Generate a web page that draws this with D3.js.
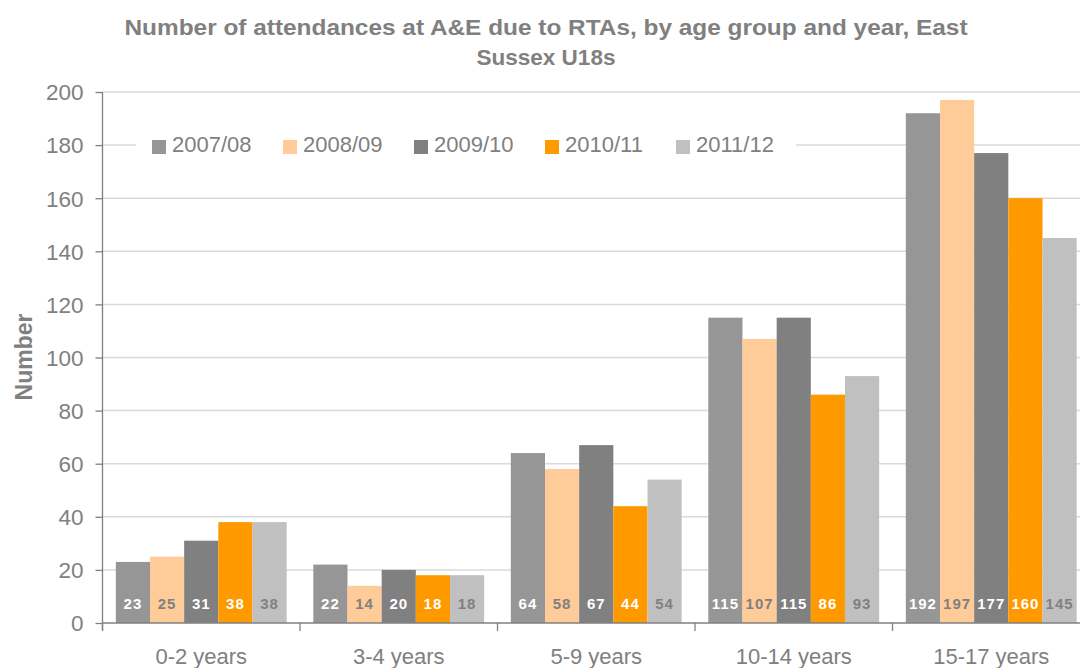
<!DOCTYPE html>
<html>
<head>
<meta charset="utf-8">
<script src="https://cdn.jsdelivr.net/npm/d3@7"></script>
<style>
  html, body { margin: 0; padding: 0; background: #fff; }
  svg { display: block; font-family: "Liberation Sans", Arial, sans-serif; }
</style>
</head>
<body>
<svg id="chart" width="1080" height="668"></svg>
<script>
// Age groups and financial years
const ageGroups = ["0-2 years", "3-4 years", "5-9 years", "10-14 years", "15-17 years"];
const years = ["2007/08", "2008/09", "2009/10", "2010/11", "2011/12"];

// Attendances per year, one value per age group
const y2007 = [23, 22, 64, 115, 192];
const y2008 = [25, 14, 58, 107, 197];
const y2009 = [31, 20, 67, 115, 177];
const y2010 = [38, 18, 44, 86, 160];
const y2011 = [38, 18, 54, 93, 145];

const yTicks = [0, 20, 40, 60, 80, 100, 120, 140, 160, 180, 200];

const seriesColors = ["#969696", "#FFCC99", "#808080", "#FF9900", "#C0C0C0"];
const labelColors = ["#ffffff", "#808080", "#ffffff", "#ffffff", "#808080"];

const series = [y2007, y2008, y2009, y2010, y2011].map((vals, i) => ({
  year: years[i], color: seriesColors[i], labelColor: labelColors[i], values: vals
}));

const svg = d3.select("#chart");
const plot = { left: 102.5, right: 1090, top: 92, bottom: 623 };

const x0 = d3.scaleBand().domain(ageGroups).range([plot.left, plot.right]).paddingInner(0).paddingOuter(0);
const x1 = d3.scaleBand().domain(years).range([0, x0.bandwidth()]).paddingOuter(0.39).paddingInner(0);
const y = d3.scaleLinear().domain([0, 200]).range([plot.bottom, plot.top]);

const grey = "#808080";

// Gridlines
svg.append("g")
  .selectAll("line")
  .data(yTicks.filter(d => d > 0))
  .join("line")
  .attr("x1", plot.left).attr("x2", 1080)
  .attr("y1", d => y(d)).attr("y2", d => y(d))
  .attr("stroke", "#dadada").attr("stroke-width", 1.5);

// Bars
const groups = svg.append("g")
  .selectAll("g")
  .data(series)
  .join("g");

groups.selectAll("rect")
  .data(s => s.values.map((v, i) => ({ v, cat: ageGroups[i], s })))
  .join("rect")
  .attr("x", d => x0(d.cat) + x1(d.s.year))
  .attr("width", x1.bandwidth())
  .attr("y", d => y(d.v))
  .attr("height", d => y(0) - y(d.v))
  .attr("fill", d => d.s.color);

// Value labels near the base of each bar
groups.selectAll("text")
  .data(s => s.values.map((v, i) => ({ v, cat: ageGroups[i], s })))
  .join("text")
  .attr("x", d => x0(d.cat) + x1(d.s.year) + x1.bandwidth() / 2)
  .attr("y", 609)
  .attr("text-anchor", "middle")
  .attr("font-size", 15)
  .attr("font-weight", "bold")
  .attr("letter-spacing", 1)
  .attr("fill", d => d.s.labelColor)
  .text(d => d.v);

// Y axis
const yAxis = svg.append("g")
  .attr("transform", `translate(${plot.left},0)`)
  .call(d3.axisLeft(y).tickValues(yTicks).tickSize(7).tickPadding(12));
yAxis.select(".domain").attr("stroke", grey).attr("stroke-width", 1.3).attr("d", `M0,${plot.top}V${plot.bottom + 7}`);
yAxis.selectAll(".tick line").attr("stroke", grey).attr("stroke-width", 1.3);
yAxis.selectAll(".tick text").attr("fill", grey).attr("font-size", 22.5)
  .attr("dy", "0.35em")
  .attr("font-family", "Liberation Sans, Arial, sans-serif");

// X axis with ticks at category boundaries
const xAxis = svg.append("g").attr("transform", `translate(0,${plot.bottom})`);
xAxis.append("line")
  .attr("x1", plot.left).attr("x2", 1080)
  .attr("stroke", grey).attr("stroke-width", 1.3);
xAxis.selectAll("line.bound")
  .data(ageGroups.map(g => x0(g)).concat([plot.right]))
  .join("line")
  .attr("class", "bound")
  .attr("x1", d => d).attr("x2", d => d)
  .attr("y1", 0).attr("y2", 8)
  .attr("stroke", grey).attr("stroke-width", 1.3);
xAxis.selectAll("text")
  .data(ageGroups)
  .join("text")
  .attr("x", d => x0(d) + x0.bandwidth() / 2)
  .attr("y", 41)
  .attr("text-anchor", "middle")
  .attr("font-size", 22)
  .attr("fill", grey)
  .text(d => d);

// Y axis title
svg.append("text")
  .attr("transform", "translate(32,357) rotate(-90)")
  .attr("text-anchor", "middle")
  .attr("font-size", 23)
  .attr("font-weight", "bold")
  .attr("fill", grey)
  .text("Number");

// Chart title
const title = svg.append("text")
  .attr("text-anchor", "middle")
  .attr("font-size", 22.5)
  .attr("font-weight", "bold")
  .attr("fill", grey);
title.append("tspan").attr("x", 546).attr("y", 35)
  .attr("textLength", 843).attr("lengthAdjust", "spacingAndGlyphs")
  .text("Number of attendances at A&E due to RTAs, by age group and year, East");
title.append("tspan").attr("x", 546).attr("y", 65)
  .text("Sussex U18s");

// Legend
const legend = svg.append("g");
legend.append("rect")
  .attr("x", 136).attr("y", 126).attr("width", 660).attr("height", 38)
  .attr("fill", "#fff");
const item = legend.selectAll("g")
  .data(series)
  .join("g")
  .attr("transform", (d, i) => `translate(${152 + i * 131},0)`);
item.append("rect")
  .attr("x", 0).attr("y", 140).attr("width", 14).attr("height", 14)
  .attr("fill", d => d.color);
item.append("text")
  .attr("x", 20).attr("y", 152)
  .attr("font-size", 22)
  .attr("fill", grey)
  .text(d => d.year);
</script>
</body>
</html>
